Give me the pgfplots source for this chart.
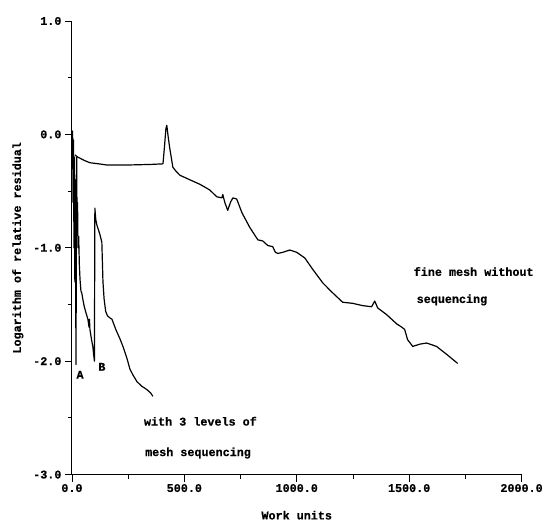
\documentclass[border=0pt]{standalone}
\usepackage{fontspec}
\setmainfont{Liberation Mono}[BoldFeatures={FakeBold=0.6}]
\usepackage{pgfplots}
\pgfplotsset{compat=1.18}
\newcommand{\pf}{\fontsize{11.8}{13}\selectfont\bfseries}
\begin{document}
\begin{tikzpicture}[x=1bp,y=1bp]
\begin{axis}[
  width=450bp, height=454bp, scale only axis,
  xmin=0, xmax=2000, ymin=-3, ymax=1,
  axis x line*=bottom, axis y line*=left,
  axis line style={line width=0.9bp, black},
  xtick={0,500,1000,1500,2000},
  ytick={-3,-2,-1,0,1},
  minor x tick num=1, minor y tick num=1,
  tick align=outside,
  major tick length=7bp, minor tick length=4bp,
  tick style={line width=0.8bp, black},
  /pgf/number format/.cd, fixed, fixed zerofill, precision=1, 1000 sep={}, assume math mode=true,
  /pgfplots/.cd,
  ticklabel style={font=\pf},
  xticklabel style={yshift=1bp},
  xlabel={Work units}, ylabel={Logarithm of relative residual},
  label style={font=\pf},
  xlabel style={yshift=-12bp},
  ylabel style={yshift=3bp},
  clip=false,
]
\addplot[black, line width=1.2bp, line join=round] coordinates {
(13,-0.18) (25,-0.20) (36,-0.21) (55,-0.23) (80,-0.25) (120,-0.26) (155,-0.27) (250,-0.27) (350,-0.265) (405,-0.26) (412,-0.1) (418,0.05) (422,0.08) (428,-0.02) (435,-0.12) (449,-0.29) (465,-0.33) (480,-0.36) (524,-0.40) (569,-0.44) (613,-0.49) (644,-0.55) (667,-0.56) (671,-0.53) (680,-0.60) (693,-0.67) (705,-0.60) (716,-0.56) (733,-0.57) (756,-0.69) (791,-0.82) (827,-0.93) (849,-0.94) (871,-0.98) (893,-0.99) (905,-1.04) (916,-1.05) (938,-1.04) (969,-1.02) (1000,-1.04) (1036,-1.09) (1071,-1.19) (1116,-1.31) (1156,-1.39) (1204,-1.48) (1249,-1.49) (1293,-1.51) (1333,-1.52) (1347,-1.47) (1360,-1.53) (1400,-1.59) (1444,-1.67) (1467,-1.70) (1480,-1.72) (1493,-1.81) (1516,-1.87) (1547,-1.85) (1578,-1.84) (1622,-1.87) (1667,-1.94) (1716,-2.02)
};
\addplot[black, line width=1.2bp, line join=round] coordinates {
(0,-0.15) (3,0.03) (5,-0.6) (7,-0.05) (9,-1.0) (11,-0.2) (13,-1.3) (15,-0.4) (18,-2.03) (21,-0.2) (23,-0.85) (25,-0.6) (27,-1.0) (30,-0.9) (33,-1.15) (36,-1.28) (40,-1.38) (44,-1.40) (49,-1.46) (55,-1.52) (62,-1.57) (71,-1.63) (76,-1.70) (78,-1.63) (80,-1.72) (88,-1.82) (93,-1.87) (96,-1.93) (100,-2.0) (102,-0.65) (106,-0.75) (111,-0.80) (116,-0.83) (124,-0.88) (133,-0.95) (138,-1.30) (143,-1.45) (150,-1.56) (158,-1.6) (170,-1.62) (178,-1.63) (195,-1.72) (213,-1.80) (227,-1.87) (244,-1.97) (258,-2.07) (271,-2.12) (289,-2.18) (310,-2.22) (333,-2.25) (350,-2.28) (360,-2.31)
};
\node[font=\pf] at (axis cs:36,-2.12) {A};
\node[font=\pf] at (axis cs:133,-2.05) {B};
\node[font=\pf, anchor=west] at (axis cs:1505,-1.21) {fine mesh without};
\node[font=\pf, anchor=west] at (axis cs:1518,-1.46) {sequencing};
\node[font=\pf, anchor=west] at (axis cs:305,-2.53) {with 3 levels of};
\node[font=\pf, anchor=west] at (axis cs:310,-2.81) {mesh sequencing};
\end{axis}
\path ([xshift=-72bp,yshift=-47bp]current axis.south west) rectangle ([xshift=24bp,yshift=21bp]current axis.north east);
\end{tikzpicture}
\end{document}
